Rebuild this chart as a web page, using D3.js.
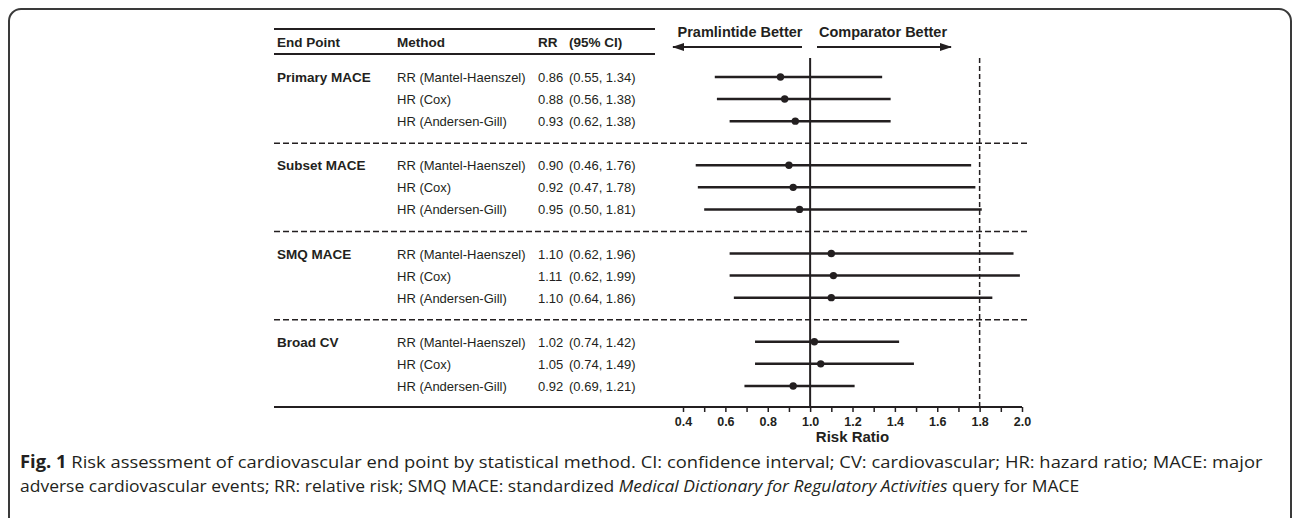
<!DOCTYPE html>
<html>
<head>
<meta charset="utf-8">
<script src="https://cdn.jsdelivr.net/npm/d3@7"></script>
<style>
  body { margin: 0; background: #fff; }
  svg text { font-family: "Liberation Sans", Arial, sans-serif; fill: #231f20; }
</style>
</head>
<body>
<div id="chart"></div>
<script>
// data
var endPoints = ["Primary MACE", "Subset MACE", "SMQ MACE", "Broad CV"];
var methods = ["RR (Mantel-Haenszel)", "HR (Cox)", "HR (Andersen-Gill)"];
var estimates = [[0.86, 0.88, 0.93], [0.90, 0.92, 0.95], [1.10, 1.11, 1.10], [1.02, 1.05, 0.92]];
var lowerCI = [[0.55, 0.56, 0.62], [0.46, 0.47, 0.50], [0.62, 0.62, 0.64], [0.74, 0.74, 0.69]];
var upperCI = [[1.34, 1.38, 1.38], [1.76, 1.78, 1.81], [1.96, 1.99, 1.86], [1.42, 1.49, 1.21]];
var xTickLabels = [0.4, 0.6, 0.8, 1.0, 1.2, 1.4, 1.6, 1.8, 2.0];
var headers = ["End Point", "Method", "RR", "(95% CI)"];
var refLine = 1.0, marginLine = 1.8;
var captionLine1 = [
    {t: "Fig. 1", w: "bold"},
    {t: " Risk assessment of cardiovascular end point by statistical method. CI: confidence interval; CV: cardiovascular; HR: hazard ratio; MACE: major"}
];
var captionLine2 = [
    {t: "adverse cardiovascular events; RR: relative risk; SMQ MACE: standardized "},
    {t: "Medical Dictionary for Regulatory Activities", s: "italic"},
    {t: " query for MACE"}
];

var rows = [];
endPoints.forEach(function(ep, g) {
    methods.forEach(function(m, r) {
        rows.push({group: g, row: r, endPoint: ep, method: m,
            est: estimates[g][r], lo: lowerCI[g][r], hi: upperCI[g][r], slot: g * 4 + r});
    });
});

var W = 1292, H = 518;
var svg = d3.select("#chart").append("svg")
    .attr("width", W).attr("height", H);

// frame
svg.append("rect")
    .attr("x", 9).attr("y", 9).attr("width", 1282).attr("height", 540)
    .attr("rx", 12).attr("fill", "none")
    .attr("stroke", "#3a3a3a").attr("stroke-width", 2);

var xScale = d3.scaleLinear().domain([0.4, 2.0]).range([683, 1022]);
var yScale = d3.scaleLinear().domain([0, 15]).range([77, 408]);

var left = 274;
var colX = [277, 397, 538, 569];
var fmt = d3.format(".2f");

// header rules
svg.append("line").attr("x1", left).attr("x2", 655).attr("y1", 29).attr("y2", 29)
    .attr("stroke", "#231f20").attr("stroke-width", 2);
svg.append("line").attr("x1", left).attr("x2", 655).attr("y1", 54).attr("y2", 54)
    .attr("stroke", "#231f20").attr("stroke-width", 2);

svg.selectAll(".hdr").data(headers).enter().append("text")
    .attr("x", function(d, i) { return colX[i]; })
    .attr("y", 46.5)
    .attr("font-size", 13.5).attr("font-weight", "bold")
    .text(function(d) { return d; });

// direction arrows
svg.append("defs").append("marker")
    .attr("id", "ah").attr("viewBox", "0 0 12 8")
    .attr("refX", 11).attr("refY", 4)
    .attr("markerWidth", 12).attr("markerHeight", 8)
    .attr("markerUnits", "userSpaceOnUse")
    .attr("orient", "auto")
    .append("path").attr("d", "M0,0L12,4L0,8Z").attr("fill", "#231f20");

svg.append("line").attr("x1", 802).attr("x2", 673).attr("y1", 47).attr("y2", 47)
    .attr("stroke", "#231f20").attr("stroke-width", 2).attr("marker-end", "url(#ah)");
svg.append("line").attr("x1", 817).attr("x2", 951).attr("y1", 47).attr("y2", 47)
    .attr("stroke", "#231f20").attr("stroke-width", 2).attr("marker-end", "url(#ah)");
svg.append("text").attr("x", 740).attr("y", 37).attr("text-anchor", "middle")
    .attr("font-size", 14.5).attr("font-weight", "bold").text("Pramlintide Better");
svg.append("text").attr("x", 883).attr("y", 37).attr("text-anchor", "middle")
    .attr("font-size", 14.5).attr("font-weight", "bold").text("Comparator Better");

// group separators
[3, 7, 11].forEach(function(s) {
    svg.append("line").attr("x1", left).attr("x2", 1027)
        .attr("y1", yScale(s)).attr("y2", yScale(s))
        .attr("stroke", "#231f20").attr("stroke-width", 1.5)
        .attr("stroke-dasharray", "6,3");
});

// reference lines
svg.append("line").attr("x1", xScale(refLine)).attr("x2", xScale(refLine))
    .attr("y1", 58).attr("y2", yScale(15))
    .attr("stroke", "#231f20").attr("stroke-width", 2);
svg.append("line").attr("x1", xScale(marginLine)).attr("x2", xScale(marginLine))
    .attr("y1", 58).attr("y2", yScale(15))
    .attr("stroke", "#231f20").attr("stroke-width", 1.5)
    .attr("stroke-dasharray", "5,3");

// table text
svg.selectAll(".ep").data(rows.filter(function(d) { return d.row === 0; }))
    .enter().append("text")
    .attr("x", colX[0]).attr("y", function(d) { return yScale(d.slot) + 5; })
    .attr("font-size", 13.5).attr("font-weight", "bold")
    .text(function(d) { return d.endPoint; });

var rowText = svg.selectAll(".row").data(rows).enter().append("g")
    .attr("transform", function(d) { return "translate(0," + (yScale(d.slot) + 5) + ")"; });
rowText.append("text").attr("x", colX[1]).attr("font-size", 13)
    .text(function(d) { return d.method; });
rowText.append("text").attr("x", colX[2]).attr("font-size", 13)
    .text(function(d) { return fmt(d.est); });
rowText.append("text").attr("x", colX[3]).attr("font-size", 13)
    .text(function(d) { return "(" + fmt(d.lo) + ", " + fmt(d.hi) + ")"; });

// intervals and points
svg.selectAll(".ci").data(rows).enter().append("line")
    .attr("x1", function(d) { return xScale(d.lo); })
    .attr("x2", function(d) { return xScale(d.hi); })
    .attr("y1", function(d) { return yScale(d.slot); })
    .attr("y2", function(d) { return yScale(d.slot); })
    .attr("stroke", "#231f20").attr("stroke-width", 2.5);
svg.selectAll(".pt").data(rows).enter().append("circle")
    .attr("cx", function(d) { return xScale(d.est); })
    .attr("cy", function(d) { return yScale(d.slot); })
    .attr("r", 3.7).attr("fill", "#231f20");

// x axis
var axisY = yScale(15) - 1;
svg.append("line").attr("x1", left).attr("x2", xScale(2.0))
    .attr("y1", axisY).attr("y2", axisY)
    .attr("stroke", "#231f20").attr("stroke-width", 2);
var axis = svg.append("g")
    .attr("transform", "translate(0," + axisY + ")")
    .call(d3.axisBottom(xScale)
        .tickValues(d3.range(4, 21).map(function(v) { return v / 10; }))
        .tickSize(5)
        .tickFormat(function(d) {
            return xTickLabels.some(function(t) { return Math.abs(t - d) < 1e-9; }) ? d3.format(".1f")(d) : "";
        }));
axis.select(".domain").remove();
axis.selectAll(".tick line").attr("stroke", "#231f20").attr("stroke-width", 1.5);
axis.selectAll(".tick text")
    .attr("y", 10)
    .attr("font-size", 12.5).attr("font-weight", "bold")
    .attr("font-family", "Liberation Sans, Arial, sans-serif")
    .attr("fill", "#231f20");

svg.append("text").attr("x", xScale(1.2)).attr("y", 441.5)
    .attr("text-anchor", "middle").attr("font-size", 15).attr("font-weight", "bold")
    .text("Risk Ratio");

// caption lines, each squeezed to the width it has in the figure
function caption(parts, y, targetW) {
    var t = svg.append("text").attr("x", 0).attr("y", 0)
        .attr("font-size", 17)
        .style("font-family", "'Open Sans', 'Noto Sans', sans-serif")
        .style("fill", "#231f20");
    parts.forEach(function(p) {
        t.append("tspan").attr("font-weight", p.w || "normal")
            .attr("font-style", p.s || "normal").text(p.t);
    });
    var k = targetW / t.node().getComputedTextLength();
    t.attr("transform", "translate(20," + y + ") scale(" + k + ",1)");
}
caption(captionLine1, 468, 1243);
caption(captionLine2, 492, 1060);
</script>
</body>
</html>
